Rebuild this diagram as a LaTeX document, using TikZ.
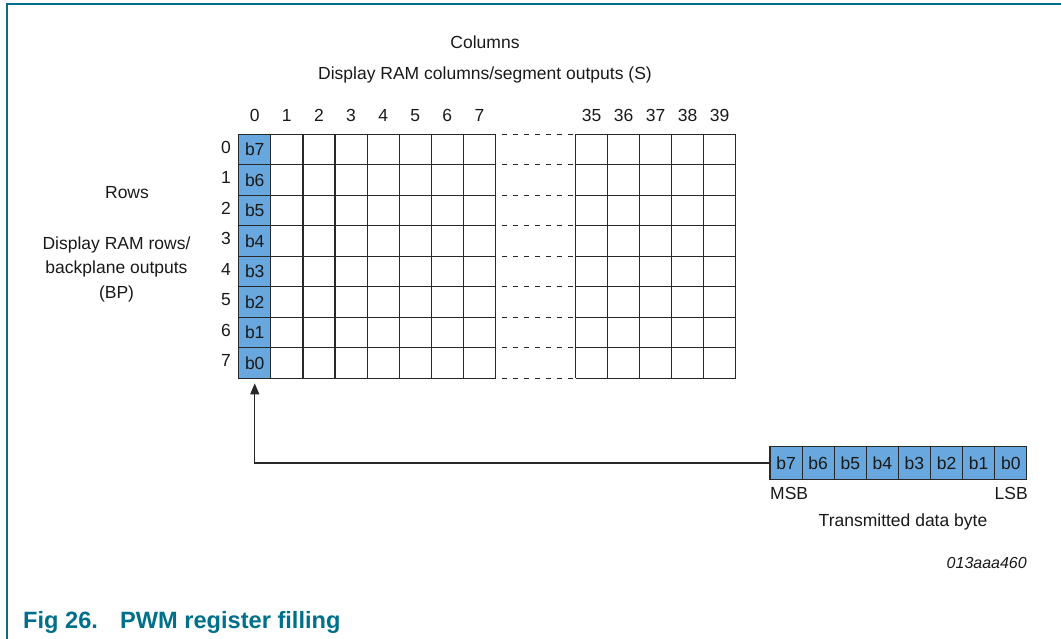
\documentclass[tikz,border=0pt]{standalone}
\usepackage{fontspec}
\setmainfont{Liberation Sans}
\usetikzlibrary{arrows.meta}
\definecolor{nxpteal}{RGB}{0,112,138}
\definecolor{cellblue}{RGB}{104,168,222}
\definecolor{gridc}{RGB}{40,40,40}
\tikzset{
  txt/.style={inner sep=0pt, text height=0.716em, text depth=0pt, text=black!90,
    font=\fontsize{17.5}{24}\selectfont},
  gline/.style={draw=gridc, line width=1.2pt},
  dline/.style={draw=gridc, line width=1.2pt, dash pattern=on 5pt off 6pt, dash phase=5pt},
  bitcell/.style={draw=gridc, fill=cellblue, line width=1.2pt, inner sep=0pt,
    minimum width=32.1pt, minimum height=30.5pt, text=black!90,
    font=\fontsize{17.5}{21}\selectfont},
  regcell/.style={bitcell, minimum height=33pt},
  link/.style={draw=gridc, line width=1.2pt, -{Triangle[length=11pt,width=9pt]}}
}
\begin{document}
\begin{tikzpicture}[x=1pt,y=-1pt]
\useasboundingbox (0,0) rectangle (1061,639);
% frame
\draw[nxpteal, line width=2pt] (7.3,640) -- (7.3,4.3) -- (1062,4.3);
% titles
\node[txt] (coltitle) at (485,45) {Columns};
\node[txt] (colsub) at (485,76) {Display RAM columns/segment outputs (S)};
\node[txt] (rowtitle) at (127,195) {Rows};
\node[txt, align=center, text height=, text depth=, font=\fontsize{17.5}{24.5}\selectfont] (rowsub) at (116.5,269) {Display RAM rows/\\backplane outputs\\(BP)};
% grid lines
\foreach \i in {0,...,8} {
  \draw[gline] (238.7,{134.3+30.5*\i}) -- (495.7,{134.3+30.5*\i});
  \draw[gline] (575.7,{134.3+30.5*\i}) -- (735.7,{134.3+30.5*\i});
  \draw[dline] (495.7,{134.3+30.5*\i}) -- (575.7,{134.3+30.5*\i});
  \draw[gline] ({238.7+32.1*\i},134.3) -- ({238.7+32.1*\i},378.3);
}
\foreach \j in {0,...,5}
  \draw[gline] ({575.7+32*\j},134.3) -- ({575.7+32*\j},378.3);
% column numbers
\foreach \i in {0,...,7}
  \node[txt] (cn\i) at ({238.7+32.1*(\i+0.5)},118) {\i};
\foreach \j [count=\k from 0] in {35,...,39}
  \node[txt] (cn\j) at ({575.7+32*(\k+0.5)},118) {\j};
% row numbers and column 0 cells
\foreach \r [evaluate=\r as \b using int(7-\r)] in {0,...,7} {
  \node[txt] (rn\r) at (226,{134.3+30.5*(\r+0.5)}) {\r};
  \node[bitcell] (g\b) at (254.75,{134.3+30.5*(\r+0.5)}) {b\b};
}
% transmitted byte register
\foreach \i [evaluate=\i as \b using int(7-\i)] in {0,...,7}
  \node[regcell] (r\b) at ({770+32.1*(\i+0.5)},463) {b\b};
\node[txt, anchor=west] (msb) at (770,496) {MSB};
\node[txt, anchor=east] (lsb) at (1028,496) {LSB};
\node[txt] (tdb) at (903,523) {Transmitted data byte};
\node[txt, anchor=east, font=\fontsize{16}{19}\selectfont\itshape] (code) at (1027,565) {013aaa460};
% connector
\draw[link, shorten >=4.5pt] (r7.west) -| (g0.south);
% figure caption
\node[inner sep=0pt, anchor=base west, text=nxpteal,
  font=\fontsize{23.6}{27}\selectfont\bfseries] (cap) at (23,628)
  {\makebox[97pt][l]{Fig 26.}PWM register filling};
\end{tikzpicture}
\end{document}
